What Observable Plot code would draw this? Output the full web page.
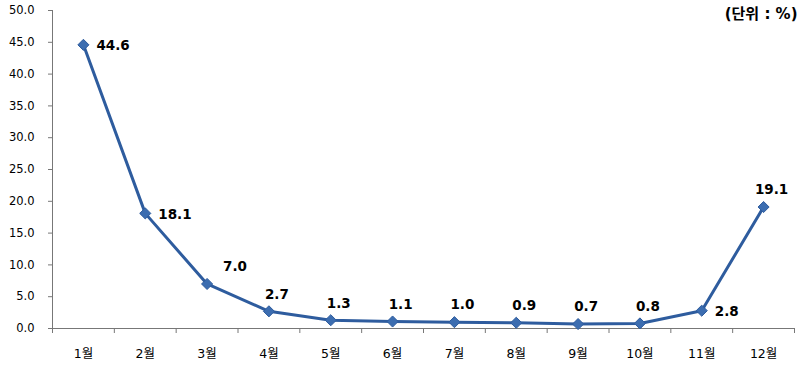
<!DOCTYPE html>
<html>
<head>
<meta charset="utf-8">
<script src="https://cdn.jsdelivr.net/npm/d3@7"></script>
<script src="https://cdn.jsdelivr.net/npm/@observablehq/plot@0.6"></script>
<style>
  html, body { margin: 0; padding: 0; background: #fff; }
  #chart svg { display: block; }
</style>
</head>
<body>
<div id="chart"></div>
<script>
const months = ["1월","2월","3월","4월","5월","6월","7월","8월","9월","10월","11월","12월"];
const values = [44.6, 18.1, 7.0, 2.7, 1.3, 1.1, 1.0, 0.9, 0.7, 0.8, 2.8, 19.1];
const yTicks = [0, 5, 10, 15, 20, 25, 30, 35, 40, 45, 50];
const unitLabel = "(단위 : %)";

const data = months.map((m, i) => ({month: m, idx: i + 1, value: values[i]}));
const rightIdx = new Set([1, 2, 11]);
const aboveRightIdx = new Set([3]);

const lineColor = "#2E5C9E";
const font = "'DejaVu Sans', 'Noto Sans CJK KR', sans-serif";

const boundaries = d3.range(0, months.length + 1).map(i => i + 0.5);

const chart = Plot.plot({
  width: 810,
  height: 368,
  marginLeft: 52,
  marginRight: 16,
  marginTop: 10,
  marginBottom: 40,
  style: {fontFamily: font, background: "#fff", color: "#000"},
  x: {type: "linear", domain: [0.5, months.length + 0.5]},
  y: {domain: [0, 50]},
  marks: [
    Plot.ruleX([0.5], {stroke: "#777", strokeWidth: 1}),
    Plot.ruleY([0], {stroke: "#777", strokeWidth: 1}),
    Plot.axisY({ticks: yTicks, tickFormat: d => d.toFixed(1), tickSize: 4, tickPadding: 14,
      stroke: "#777", fontSize: 11.5, fill: "#000", label: null}),
    Plot.axisX({ticks: boundaries, tickFormat: () => "", tickSize: 5, stroke: "#777", label: null}),
    Plot.axisX({ticks: data.map(d => d.idx), tickFormat: i => months[i - 1], tickSize: 0,
      tickPadding: 21, fontSize: 12.5, fill: "#000", label: null}),
    Plot.line(data, {x: "idx", y: "value", stroke: lineColor, strokeWidth: 3}),
    Plot.dot(data, {x: "idx", y: "value", symbol: "diamond2", r: 5, fill: "#3C6DB0", stroke: lineColor, strokeWidth: 1}),
    Plot.text(data.filter(d => rightIdx.has(d.idx)), {x: "idx", y: "value", text: d => d.value.toFixed(1),
      dx: 13, dy: 1, textAnchor: "start", fontWeight: "bold", fontSize: 13.5, fill: "#000"}),
    Plot.text(data.filter(d => aboveRightIdx.has(d.idx)), {x: "idx", y: "value", text: d => d.value.toFixed(1),
      dx: 16, dy: -17, textAnchor: "start", fontWeight: "bold", fontSize: 13.5, fill: "#000"}),
    Plot.text(data.filter(d => !rightIdx.has(d.idx) && !aboveRightIdx.has(d.idx)), {x: "idx", y: "value",
      text: d => d.value.toFixed(1), dx: 8, dy: -17, textAnchor: "middle", fontWeight: "bold", fontSize: 13.5, fill: "#000"}),
    Plot.text([unitLabel], {frameAnchor: "top-right", dx: 3, dy: -2, fontSize: 15, fontWeight: 600, fill: "#000"})
  ]
});
document.getElementById("chart").appendChild(chart);
</script>
</body>
</html>
